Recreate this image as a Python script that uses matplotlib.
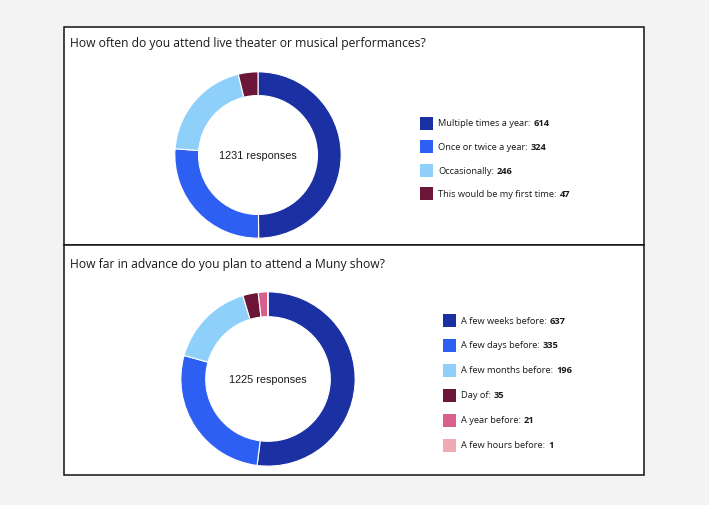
import matplotlib.pyplot as plt
from matplotlib.patches import Rectangle

# data
q1_title = "How often do you attend live theater or musical performances?"
q1_labels = ["Multiple times a year", "Once or twice a year", "Occasionally", "This would be my first time"]
q1_values = [614, 324, 246, 47]
q1_total = 1231

q2_title = "How far in advance do you plan to attend a Muny show?"
q2_labels = ["A few weeks before", "A few days before", "A few months before", "Day of", "A year before", "A few hours before"]
q2_values = [637, 335, 196, 35, 21, 1]
q2_total = 1225

colors = ["#1a30a3", "#2d5ff2", "#8fd0fb", "#6b1538", "#d95f8c", "#f2a9b6"]

W, H = 709, 506
fig = plt.figure(figsize=(W / 100, H / 100), dpi=100)
fig.patch.set_facecolor("#f3f3f3")


def px_rect(x0, y0, x1, y1):
    # pixel box (top-left origin) -> figure fraction [left, bottom, w, h]
    return [x0 / W, 1 - y1 / H, (x1 - x0) / W, (y1 - y0) / H]


# panels (behind the donut axes)
for (y0, y1) in [(28, 246), (246, 476)]:
    l, b, w, h = px_rect(64, y0, 644, y1)
    fig.patches.append(Rectangle((l, b), w, h, transform=fig.transFigure,
                                 facecolor="white", edgecolor="#111111", lw=1.1, zorder=-1))

title_font = ["Open Sans", "DejaVu Sans"]
fig.text(70 / W, 1 - 44 / H, q1_title, fontsize=8.7, family=title_font, color="#1a1a1a", va="center")
fig.text(70 / W, 1 - 265 / H, q2_title, fontsize=8.7, family=title_font, color="#1a1a1a", va="center")


def donut(cx, cy, r, values, total):
    ax = fig.add_axes(px_rect(cx - r, cy - r, cx + r, cy + r))
    ax.pie(values, colors=colors[:len(values)], startangle=90, counterclock=False,
           radius=1, wedgeprops=dict(width=0.285, edgecolor="white", linewidth=0.8))
    ax.set_xlim(-1.01, 1.01)
    ax.set_ylim(-1.01, 1.01)
    ax.set_aspect("equal")
    ax.axis("off")
    ax.text(0, 0, f"{total} responses", ha="center", va="center", fontsize=7.8,
            family="Liberation Sans", color="#1a1a1a")


donut(258, 156, 84, q1_values, q1_total)
donut(268, 380, 88, q2_values, q2_total)

fig.canvas.draw()
renderer = fig.canvas.get_renderer()


def legend(x_sq, y_first, step, labels, values):
    for i, (lab, val) in enumerate(zip(labels, values)):
        y = y_first + i * step
        l, b, w, h = px_rect(x_sq, y - 6.5, x_sq + 13, y + 6.5)
        fig.patches.append(Rectangle((l, b), w, h, transform=fig.transFigure,
                                     facecolor=colors[i], edgecolor="none"))
        t = fig.text((x_sq + 18) / W, 1 - y / H, f"{lab}:", fontsize=6.7,
                     family=title_font, color="#1a1a1a", va="center")
        bb = t.get_window_extent(renderer)
        fig.text((bb.x1 + 3) / W, 1 - y / H, str(val), fontsize=6.7, family=title_font,
                 fontweight="bold", color="#1a1a1a", va="center")


legend(420, 124, 23.5, q1_labels, q1_values)
legend(443, 321, 25, q2_labels, q2_values)

fig.savefig("out.png", dpi=100, facecolor=fig.get_facecolor())
